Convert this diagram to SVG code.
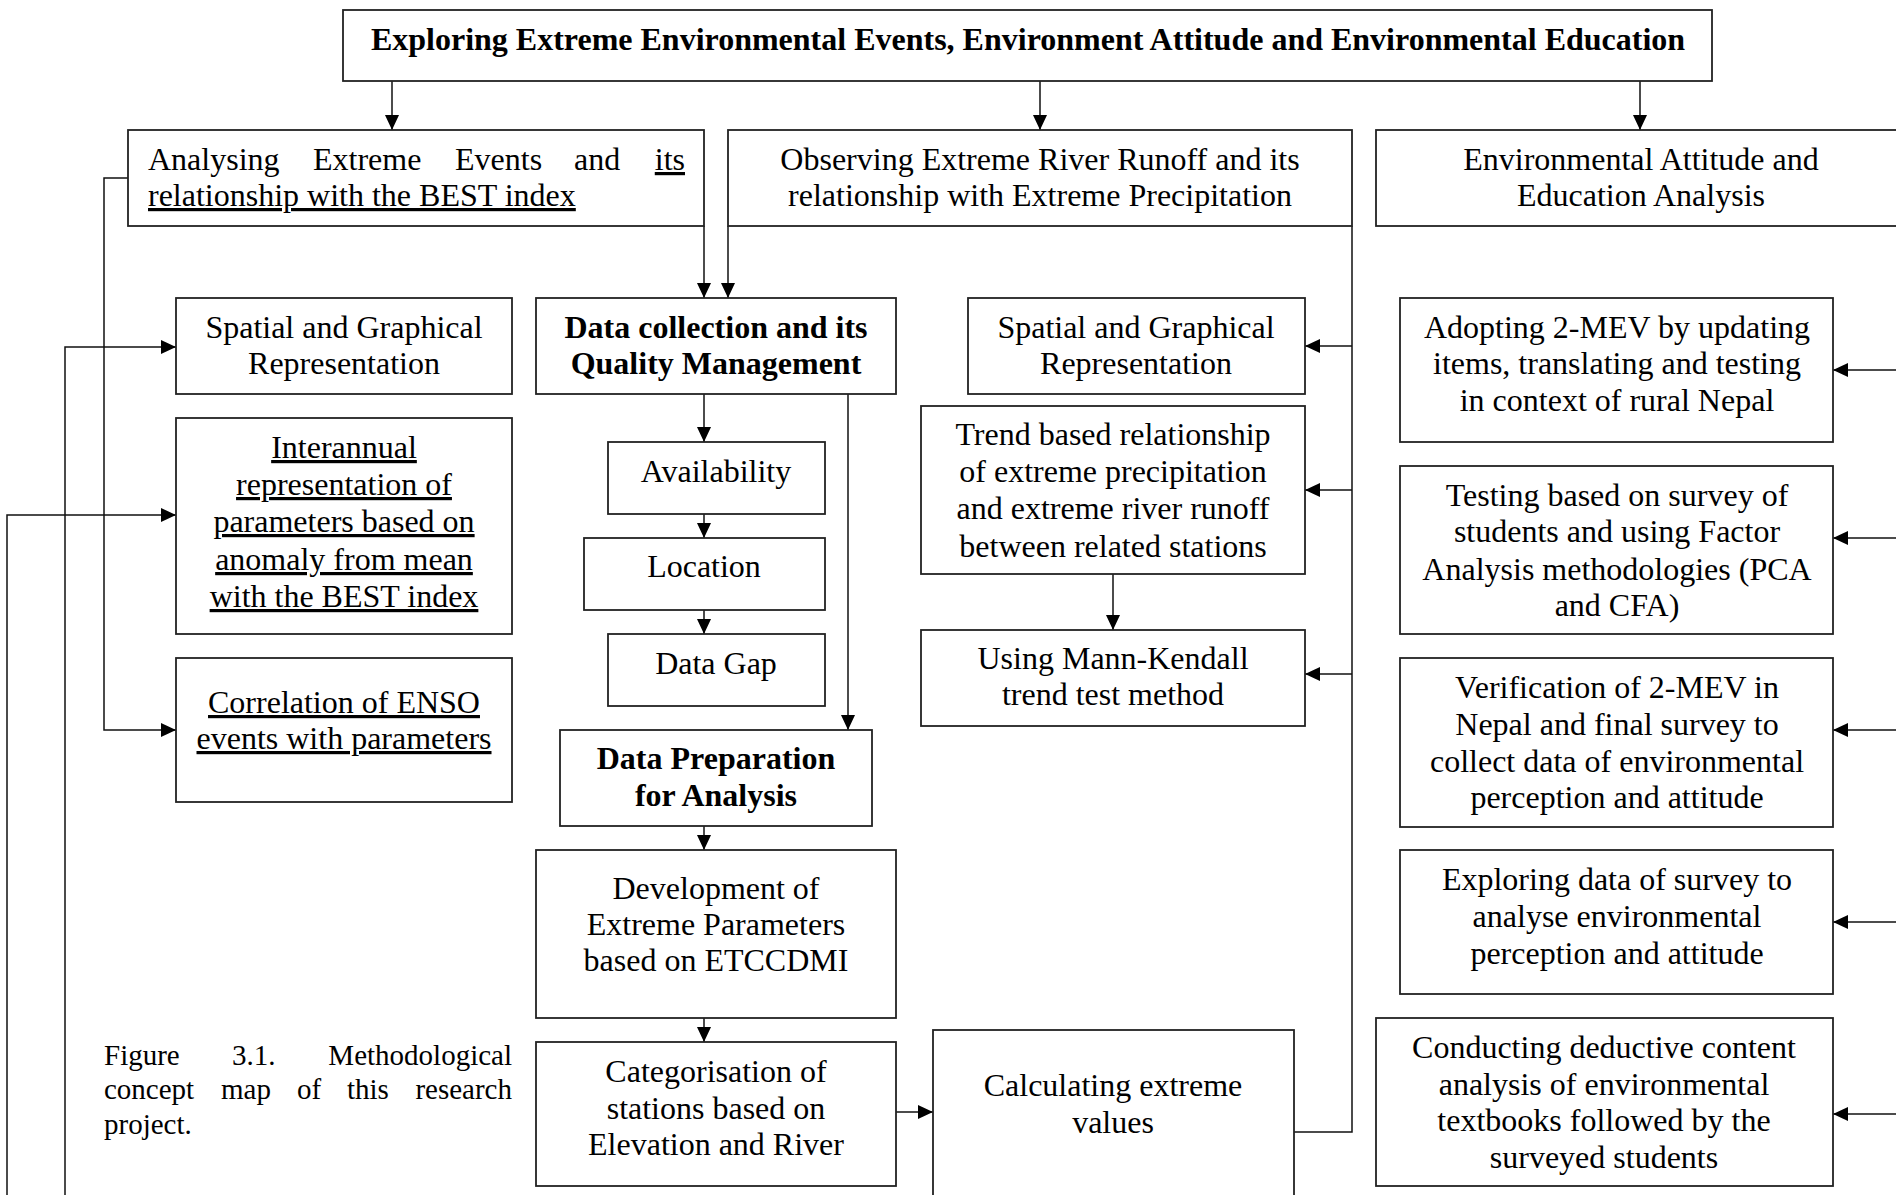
<svg xmlns="http://www.w3.org/2000/svg" width="1896" height="1195" viewBox="0 0 1896 1195">
<style>
.box{fill:#fff;stroke:#222;stroke-width:1.8}
.t{font-family:"Liberation Serif","Times New Roman",serif;font-size:32px;fill:#000;text-anchor:middle}
.s{text-anchor:start}
.e{text-anchor:end}
.b{font-weight:bold}
.u{text-decoration:underline}
.cap{font-family:"Liberation Serif","Times New Roman",serif;font-size:29px;fill:#000}
.c{fill:none;stroke:#111;stroke-width:1.5}
</style>
<defs>
<marker id="ah" markerUnits="userSpaceOnUse" markerWidth="16" markerHeight="15" refX="15" refY="7" orient="auto">
<path d="M0,0 L15,7 L0,14 z" fill="#000"/>
</marker>
</defs>
<rect width="1896" height="1195" fill="#fff"/>

<g id="connectors" class="c">
<line x1="392" y1="81" x2="392" y2="130" marker-end="url(#ah)"/>
<line x1="1040" y1="81" x2="1040" y2="130" marker-end="url(#ah)"/>
<line x1="1640" y1="81" x2="1640" y2="130" marker-end="url(#ah)"/>
<line x1="704" y1="226" x2="704" y2="298" marker-end="url(#ah)"/>
<line x1="728" y1="226" x2="728" y2="298" marker-end="url(#ah)"/>
<polyline points="128,178 104,178 104,730 176,730" marker-end="url(#ah)"/>
<polyline points="65,1195 65,347 176,347" marker-end="url(#ah)"/>
<polyline points="7,1195 7,515 176,515" marker-end="url(#ah)"/>
<line x1="704" y1="394" x2="704" y2="442" marker-end="url(#ah)"/>
<line x1="704" y1="514" x2="704" y2="538" marker-end="url(#ah)"/>
<line x1="704" y1="610" x2="704" y2="634" marker-end="url(#ah)"/>
<line x1="848" y1="394" x2="848" y2="730" marker-end="url(#ah)"/>
<line x1="704" y1="826" x2="704" y2="850" marker-end="url(#ah)"/>
<line x1="704" y1="1018" x2="704" y2="1042" marker-end="url(#ah)"/>
<line x1="896" y1="1112" x2="933" y2="1112" marker-end="url(#ah)"/>
<polyline points="1294,1132 1352,1132 1352,226"/>
<line x1="1352" y1="346" x2="1305" y2="346" marker-end="url(#ah)"/>
<line x1="1352" y1="490" x2="1305" y2="490" marker-end="url(#ah)"/>
<line x1="1352" y1="674" x2="1305" y2="674" marker-end="url(#ah)"/>
<line x1="1113" y1="574" x2="1113" y2="630" marker-end="url(#ah)"/>
<line x1="1896" y1="370" x2="1833" y2="370" marker-end="url(#ah)"/>
<line x1="1896" y1="538" x2="1833" y2="538" marker-end="url(#ah)"/>
<line x1="1896" y1="730" x2="1833" y2="730" marker-end="url(#ah)"/>
<line x1="1896" y1="922" x2="1833" y2="922" marker-end="url(#ah)"/>
<line x1="1896" y1="1114" x2="1833" y2="1114" marker-end="url(#ah)"/>
</g>

<g id="n-title"><rect class="box" x="343" y="10" width="1369" height="71"/>
<text class="t b" x="1028" y="50">Exploring Extreme Environmental Events, Environment Attitude and Environmental Education</text></g>

<g id="n-analysing"><rect class="box" x="128" y="130" width="576" height="96"/>
<text class="t s" y="170"><tspan x="148">Analysing</tspan><tspan x="313">Extreme</tspan><tspan x="455">Events</tspan><tspan x="574">and</tspan></text>
<text class="t e u" x="685" y="170">its</text>
<text class="t s u" x="148" y="206">relationship with the BEST index</text></g>

<g id="n-observing"><rect class="box" x="728" y="130" width="624" height="96"/>
<text class="t" x="1040" y="170">Observing Extreme River Runoff and its</text>
<text class="t" x="1040" y="206">relationship with Extreme Precipitation</text></g>

<g id="n-envatt"><rect class="box" x="1376" y="130" width="540" height="96"/>
<text class="t" x="1641" y="170">Environmental Attitude and</text>
<text class="t" x="1641" y="206">Education Analysis</text></g>

<g id="n-spatial1"><rect class="box" x="176" y="298" width="336" height="96"/>
<text class="t" x="344" y="338">Spatial and Graphical</text>
<text class="t" x="344" y="374">Representation</text></g>

<g id="n-interannual"><rect class="box" x="176" y="418" width="336" height="216"/>
<text class="t u" x="344" y="458">Interannual</text>
<text class="t u" x="344" y="495">representation of</text>
<text class="t u" x="344" y="532">parameters based on</text>
<text class="t u" x="344" y="570">anomaly from mean</text>
<text class="t u" x="344" y="607">with the BEST index</text></g>

<g id="n-correlation"><rect class="box" x="176" y="658" width="336" height="144"/>
<text class="t u" x="344" y="713">Correlation of ENSO</text>
<text class="t u" x="344" y="749">events with parameters</text></g>

<g id="n-datacoll"><rect class="box" x="536" y="298" width="360" height="96"/>
<text class="t b" x="716" y="338">Data collection and its</text>
<text class="t b" x="716" y="374">Quality Management</text></g>

<g id="n-avail"><rect class="box" x="608" y="442" width="217" height="72"/>
<text class="t" x="716" y="482">Availability</text></g>

<g id="n-location"><rect class="box" x="584" y="538" width="241" height="72"/>
<text class="t" x="704" y="577">Location</text></g>

<g id="n-datagap"><rect class="box" x="608" y="634" width="217" height="72"/>
<text class="t" x="716" y="674">Data Gap</text></g>

<g id="n-dataprep"><rect class="box" x="560" y="730" width="312" height="96"/>
<text class="t b" x="716" y="769">Data Preparation</text>
<text class="t b" x="716" y="806">for Analysis</text></g>

<g id="n-development"><rect class="box" x="536" y="850" width="360" height="168"/>
<text class="t" x="716" y="899">Development of</text>
<text class="t" x="716" y="935">Extreme Parameters</text>
<text class="t" x="716" y="971">based on ETCCDMI</text></g>

<g id="n-categorisation"><rect class="box" x="536" y="1042" width="360" height="144"/>
<text class="t" x="716" y="1082">Categorisation of</text>
<text class="t" x="716" y="1119">stations based on</text>
<text class="t" x="716" y="1155">Elevation and River</text></g>

<g id="n-calculating"><rect class="box" x="933" y="1030" width="361" height="200"/>
<text class="t" x="1113" y="1096">Calculating extreme</text>
<text class="t" x="1113" y="1133">values</text></g>

<g id="n-spatial2"><rect class="box" x="968" y="298" width="337" height="96"/>
<text class="t" x="1136" y="338">Spatial and Graphical</text>
<text class="t" x="1136" y="374">Representation</text></g>

<g id="n-trend"><rect class="box" x="921" y="406" width="384" height="168"/>
<text class="t" x="1113" y="445">Trend based relationship</text>
<text class="t" x="1113" y="482">of extreme precipitation</text>
<text class="t" x="1113" y="519">and extreme river runoff</text>
<text class="t" x="1113" y="557">between related stations</text></g>

<g id="n-mann"><rect class="box" x="921" y="630" width="384" height="96"/>
<text class="t" x="1113" y="669">Using Mann-Kendall</text>
<text class="t" x="1113" y="705">trend test method</text></g>

<g id="n-adopting"><rect class="box" x="1400" y="298" width="433" height="144"/>
<text class="t" x="1617" y="338">Adopting 2-MEV by updating</text>
<text class="t" x="1617" y="374">items, translating and testing</text>
<text class="t" x="1617" y="411">in context of rural Nepal</text></g>

<g id="n-testing"><rect class="box" x="1400" y="466" width="433" height="168"/>
<text class="t" x="1617" y="506">Testing based on survey of</text>
<text class="t" x="1617" y="542">students and using Factor</text>
<text class="t" x="1617" y="580">Analysis methodologies (PCA</text>
<text class="t" x="1617" y="616">and CFA)</text></g>

<g id="n-verification"><rect class="box" x="1400" y="658" width="433" height="169"/>
<text class="t" x="1617" y="698">Verification of 2-MEV in</text>
<text class="t" x="1617" y="735">Nepal and final survey to</text>
<text class="t" x="1617" y="772">collect data of environmental</text>
<text class="t" x="1617" y="808">perception and attitude</text></g>

<g id="n-exploring"><rect class="box" x="1400" y="850" width="433" height="144"/>
<text class="t" x="1617" y="890">Exploring data of survey to</text>
<text class="t" x="1617" y="927">analyse environmental</text>
<text class="t" x="1617" y="964">perception and attitude</text></g>

<g id="n-conducting"><rect class="box" x="1376" y="1018" width="457" height="168"/>
<text class="t" x="1604" y="1058">Conducting deductive content</text>
<text class="t" x="1604" y="1095">analysis of environmental</text>
<text class="t" x="1604" y="1131">textbooks followed by the</text>
<text class="t" x="1604" y="1168">surveyed students</text></g>

<g id="caption">
<text class="cap" y="1065"><tspan x="104">Figure</tspan><tspan x="232">3.1.</tspan></text>
<text class="cap" x="512" y="1065" text-anchor="end">Methodological</text>
<text class="cap" y="1099"><tspan x="104">concept</tspan><tspan x="221">map</tspan><tspan x="297">of</tspan><tspan x="347">this</tspan></text>
<text class="cap" x="512" y="1099" text-anchor="end">research</text>
<text class="cap" x="104" y="1134">project.</text>
</g>
</svg>
